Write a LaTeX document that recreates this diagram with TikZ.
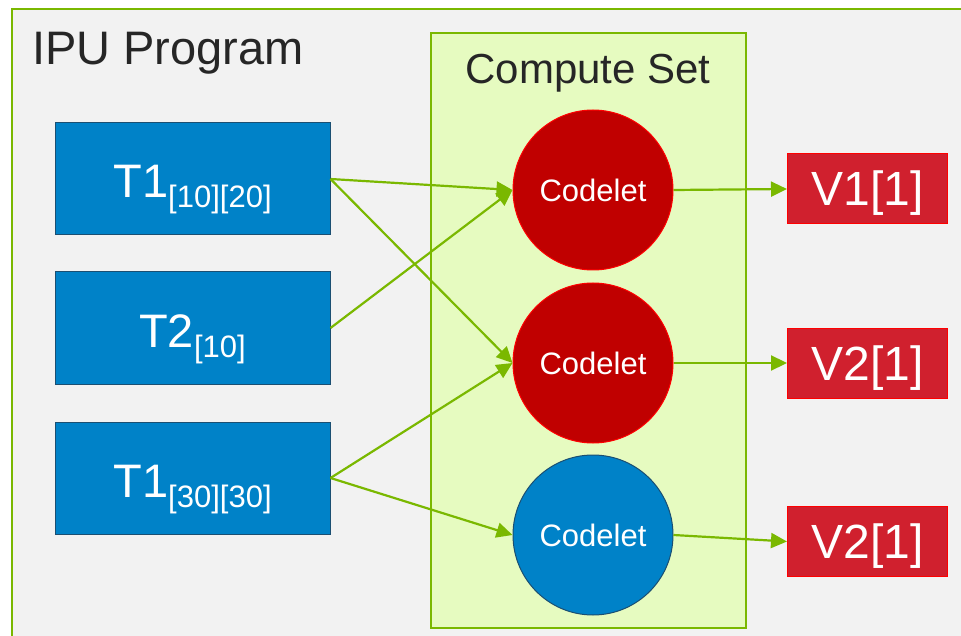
\documentclass[tikz,border=0pt]{standalone}
\usepackage{fontspec}
\setmainfont{Liberation Sans}
\usetikzlibrary{arrows.meta}
\definecolor{frgreen}{RGB}{122,184,0}
\definecolor{outerbg}{HTML}{F2F2F2}
\definecolor{csfill}{HTML}{E6FBC0}
\definecolor{ipublue}{HTML}{0082C8}
\definecolor{ipudark}{HTML}{1B4F72}
\definecolor{codered}{HTML}{C00000}
\definecolor{vred}{HTML}{D0202E}
\definecolor{titlegray}{HTML}{262626}
\newcommand\subtxt[1]{\raisebox{-10pt}{\fontsize{31}{31}\selectfont #1}}
\tikzset{
  framebox/.style={draw=frgreen, line width=2pt, fill=outerbg, rectangle, inner sep=0pt},
  csbox/.style={draw=frgreen, line width=2pt, fill=csfill, rectangle, inner sep=0pt},
  tbox/.style={rectangle, fill=ipublue, draw=ipudark, line width=1pt, minimum width=275pt, minimum height=112pt, inner sep=0pt, text=white, font=\fontsize{47}{47}\selectfont, text height=38pt, text depth=0pt},
  redcirc/.style={circle, fill=codered, draw=red, line width=1pt, minimum size=160pt, inner sep=0pt, text=white, font=\fontsize{31}{31}\selectfont},
  bluecirc/.style={circle, fill=ipublue, draw=ipudark, line width=1pt, minimum size=160pt, inner sep=0pt, text=white, font=\fontsize{31}{31}\selectfont},
  vbox/.style={rectangle, fill=vred, draw=red, line width=1pt, minimum width=160pt, minimum height=70pt, inner sep=0pt, text=white, font=\fontsize{48}{48}\selectfont, text height=34pt, text depth=0pt},
  arr/.style={draw=frgreen, line width=2.2pt, -{Triangle[length=16pt,width=15pt]}},
}
\begin{document}
\begin{tikzpicture}[x=1pt,y=-1pt]
\useasboundingbox (0,0) rectangle (961,636);
\begin{scope}
\clip (0,0) rectangle (961,636);
\node[framebox, anchor=north west, minimum width=980pt, minimum height=660pt] (ipuframe) at (11,8) {};
\end{scope}
\node[anchor=base west, inner sep=0pt, text=titlegray, font=\fontsize{47}{47}\selectfont] (ipulabel) at (32,65) {IPU Program};
\node[csbox, anchor=north west, minimum width=315pt, minimum height=595pt] (cs) at (430,32) {};
\node[anchor=base, inner sep=0pt, text=titlegray, font=\fontsize{42}{42}\selectfont] (cslabel) at (588,84) {Compute Set};

\node[tbox] (t1) at (192.5,179) {T1\subtxt{[10][20]}};
\node[tbox] (t2) at (192.5,328) {T2\subtxt{[10]}};
\node[tbox] (t3) at (192.5,478) {T1\subtxt{[30][30]}};

\node[redcirc] (c1) at (593,190) {Codelet};
\node[redcirc] (c2) at (593,363) {Codelet};
\node[bluecirc] (c3) at (593,535) {Codelet};

\node[vbox] (v1) at (867.5,189) {V1[1]};
\node[vbox] (v2) at (867.5,363) {V2[1]};
\node[vbox] (v3) at (867.5,541.5) {V2[1]};

\draw[arr] (t1.east) -- (c1.west);
\draw[arr] (t1.east) -- (c2.west);
\draw[arr] (t2.east) -- (c1.west);
\draw[arr] (t3.east) -- (c2.west);
\draw[arr] (t3.east) -- (c3.west);
\draw[arr] (c1.east) -- (v1.west);
\draw[arr] (c2.east) -- (v2.west);
\draw[arr] (c3.east) -- (v3.west);
\end{tikzpicture}
\end{document}
